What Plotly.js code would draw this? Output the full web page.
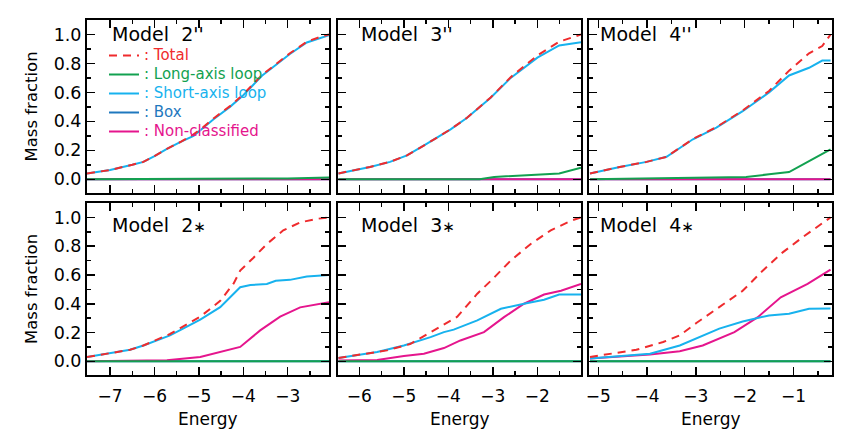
<!DOCTYPE html>
<html>
<head>
<meta charset="utf-8">
<script src="https://cdn.plot.ly/plotly-3.0.1.min.js"></script>
<style>html,body{margin:0;padding:0;background:#fff;}#chart{width:866px;height:432px;}</style>
</head>
<body>
<div id="chart"></div>
<script>
// ---------------- data ----------------
const seriesNames = ['Total', 'Long-axis loop', 'Short-axis loop', 'Box', 'Non-classified'];
const star = '<span style="font-size:15px">\u2217</span>';
const modelLabels = ["Model\u00a0\u00a02''", "Model\u00a0\u00a03''", "Model\u00a0\u00a04''",
                     "Model\u00a0\u00a02" + star, "Model\u00a0\u00a03" + star, "Model\u00a0\u00a04" + star];
const axisTitleX = 'Energy';
const axisTitleY = 'Mass fraction';

// Model 2''
const m2p_totalE = [-7.52,-7.0,-6.5,-6.25,-6.0,-5.72,-5.4,-5.12,-4.9,-4.67,-4.3,-4.0,-3.58,-3.25,-2.95,-2.57,-2.3,-2.07];
const m2p_total  = [0.04,0.064,0.10,0.12,0.16,0.21,0.26,0.31,0.36,0.42,0.505,0.586,0.72,0.80,0.87,0.95,0.98,1.0];
const m2p_shortE = m2p_totalE;
const m2p_short  = [0.04,0.064,0.10,0.12,0.16,0.21,0.26,0.30,0.355,0.415,0.50,0.58,0.715,0.795,0.865,0.945,0.975,0.995];
const m2p_longE  = [-7.52,-4.0,-3.0,-2.07];
const m2p_long   = [0.0,0.002,0.006,0.012];
const m2p_nonE   = [-7.52,-2.07];
const m2p_non    = [0.0,0.0];
const m2p_boxE   = [-7.52,-2.07];
const m2p_box    = [0.0,0.0];

// Model 3''
const m3p_totalE = [-6.47,-5.76,-5.31,-4.93,-4.48,-3.95,-3.58,-3.05,-2.60,-2.0,-1.51,-1.02];
const m3p_total  = [0.04,0.085,0.12,0.165,0.246,0.345,0.425,0.565,0.705,0.855,0.95,1.0];
const m3p_shortE = m3p_totalE;
const m3p_short  = [0.04,0.085,0.12,0.165,0.246,0.345,0.425,0.563,0.70,0.84,0.924,0.947];
const m3p_longE  = [-6.47,-3.3,-2.97,-1.51,-1.02];
const m3p_long   = [0.0,0.0,0.016,0.04,0.08];
const m3p_nonE   = [-6.47,-1.02];
const m3p_non    = [0.0,0.0];
const m3p_boxE   = [-6.47,-1.02];
const m3p_box    = [0.0,0.0];

// Model 4''
const m4p_totalE = [-5.17,-4.56,-4.01,-3.6,-3.06,-2.58,-2.04,-1.50,-1.09,-0.68,-0.41,-0.24];
const m4p_total  = [0.04,0.085,0.12,0.155,0.278,0.36,0.475,0.61,0.75,0.87,0.92,1.0];
const m4p_shortE = m4p_totalE;
const m4p_short  = [0.04,0.085,0.12,0.155,0.276,0.356,0.47,0.60,0.717,0.77,0.82,0.82];
const m4p_longE  = [-5.17,-4.0,-1.97,-1.5,-1.09,-0.68,-0.24];
const m4p_long   = [0.0,0.004,0.016,0.034,0.05,0.126,0.207];
const m4p_nonE   = [-5.17,-0.24];
const m4p_non    = [0.0,0.0];
const m4p_boxE   = [-5.17,-0.24];
const m4p_box    = [0.0,0.0];

// Model 2*
const m2s_totalE = [-7.52,-6.55,-6.25,-5.65,-4.97,-4.52,-4.22,-4.07,-3.77,-3.47,-3.10,-2.72,-2.34,-2.07];
const m2s_total  = [0.03,0.08,0.11,0.19,0.31,0.42,0.54,0.63,0.72,0.815,0.91,0.965,0.99,1.0];
const m2s_shortE = [-7.52,-6.55,-6.25,-5.65,-5.4,-4.97,-4.52,-4.07,-3.84,-3.47,-3.27,-2.95,-2.57,-2.07];
const m2s_short  = [0.03,0.08,0.11,0.18,0.22,0.29,0.376,0.515,0.53,0.538,0.56,0.566,0.59,0.60];
const m2s_longE  = [-7.52,-2.07];
const m2s_long   = [0.0,0.0];
const m2s_nonE   = [-7.52,-6.0,-5.72,-4.97,-4.52,-4.07,-3.62,-3.17,-2.72,-2.31,-2.07];
const m2s_non    = [0.0,0.002,0.007,0.03,0.065,0.10,0.215,0.31,0.375,0.40,0.41];
const m2s_boxE   = [-7.52,-2.07];
const m2s_box    = [0.0,0.0];

// Model 3*
const m3s_totalE = [-6.47,-5.98,-5.38,-4.86,-4.33,-3.8,-3.35,-3.01,-2.60,-2.15,-1.70,-1.24,-1.02];
const m3s_total  = [0.023,0.046,0.076,0.12,0.215,0.31,0.47,0.57,0.70,0.815,0.91,0.977,1.0];
const m3s_shortE = [-6.47,-5.6,-5.0,-4.4,-4.1,-3.88,-3.35,-2.82,-2.30,-1.85,-1.51,-1.02];
const m3s_short  = [0.023,0.065,0.11,0.168,0.203,0.22,0.284,0.365,0.40,0.428,0.464,0.464];
const m3s_longE  = [-6.47,-1.02];
const m3s_long   = [0.0,0.0];
const m3s_nonE   = [-6.47,-5.6,-5.0,-4.55,-4.1,-3.73,-3.2,-2.75,-2.30,-1.85,-1.47,-1.02];
const m3s_non    = [0.005,0.01,0.037,0.053,0.092,0.145,0.203,0.307,0.40,0.464,0.49,0.538];
const m3s_boxE   = [-6.47,-1.02];
const m3s_box    = [0.0,0.0];

// Model 4*
const m4s_totalE = [-5.17,-4.22,-3.67,-3.33,-2.99,-2.52,-2.04,-1.63,-1.22,-0.82,-0.24];
const m4s_total  = [0.03,0.08,0.134,0.18,0.266,0.376,0.49,0.63,0.757,0.86,1.0];
const m4s_shortE = [-5.17,-3.94,-3.33,-2.99,-2.52,-2.04,-1.50,-1.09,-0.68,-0.24];
const m4s_short  = [0.02,0.053,0.11,0.157,0.227,0.277,0.319,0.33,0.365,0.367];
const m4s_longE  = [-5.17,-0.24];
const m4s_long   = [0.0,0.0];
const m4s_nonE   = [-5.17,-3.94,-3.33,-2.86,-2.21,-1.73,-1.26,-0.71,-0.24];
const m4s_non    = [0.02,0.048,0.07,0.11,0.203,0.307,0.445,0.538,0.637];
const m4s_boxE   = [-5.17,-0.24];
const m4s_box    = [0.0,0.0];

// x-axis ranges per column (Energy)
const xRanges = [[-7.52,-2.07],[-6.48,-1.02],[-5.19,-0.21]];
const yRange = [-0.095, 1.1];
const labelX = [-7, -6, -5];

// ---------------- build the figure ----------------
const colors = {Total:'#ef2b2d', 'Long-axis loop':'#12a150', 'Short-axis loop':'#17b2ee', Box:'#1f78be', 'Non-classified':'#e5158d'};
const panels = [
  {total:[m2p_totalE,m2p_total], long:[m2p_longE,m2p_long], short:[m2p_shortE,m2p_short], box:[m2p_boxE,m2p_box], non:[m2p_nonE,m2p_non]},
  {total:[m3p_totalE,m3p_total], long:[m3p_longE,m3p_long], short:[m3p_shortE,m3p_short], box:[m3p_boxE,m3p_box], non:[m3p_nonE,m3p_non]},
  {total:[m4p_totalE,m4p_total], long:[m4p_longE,m4p_long], short:[m4p_shortE,m4p_short], box:[m4p_boxE,m4p_box], non:[m4p_nonE,m4p_non]},
  {total:[m2s_totalE,m2s_total], long:[m2s_longE,m2s_long], short:[m2s_shortE,m2s_short], box:[m2s_boxE,m2s_box], non:[m2s_nonE,m2s_non]},
  {total:[m3s_totalE,m3s_total], long:[m3s_longE,m3s_long], short:[m3s_shortE,m3s_short], box:[m3s_boxE,m3s_box], non:[m3s_nonE,m3s_non]},
  {total:[m4s_totalE,m4s_total], long:[m4s_longE,m4s_long], short:[m4s_shortE,m4s_short], box:[m4s_boxE,m4s_box], non:[m4s_nonE,m4s_non]}
];
const keyOf = {Total:'total','Long-axis loop':'long','Short-axis loop':'short',Box:'box','Non-classified':'non'};
const drawOrder = ['Box','Non-classified','Short-axis loop','Long-axis loop','Total'];
const rank = {Total:1,'Long-axis loop':2,'Short-axis loop':3,Box:4,'Non-classified':5};

const traces = [];
panels.forEach((p, i) => {
  const n = i + 1;
  drawOrder.forEach(name => {
    const d = p[keyOf[name]];
    traces.push({
      type:'scatter', mode:'lines', x:d[0], y:d[1],
      xaxis: n === 1 ? 'x' : 'x' + n, yaxis: n === 1 ? 'y' : 'y' + n,
      name: '<span style="color:' + colors[name] + ';font-size:15px">: ' + name + '</span>',
      legendrank: rank[name], showlegend: i === 0, hoverinfo:'skip',
      line:{color:colors[name], width:2, dash: name === 'Total' ? '8px,6px' : 'solid'}
    });
  });
});

const W = 866, H = 432;
const colPx = [[87,329],[338,581],[589,832]];
const rowPx = [[20,193],[203,375]];
const font = 'DejaVu Sans, Verdana, sans-serif';

const layout = {
  width:W, height:H, margin:{l:0,r:0,t:0,b:0},
  paper_bgcolor:'#fff', plot_bgcolor:'#fff',
  showlegend:true,
  legend:{x:104/W, y:1-41/H, xanchor:'left', yanchor:'top', bgcolor:'rgba(0,0,0,0)',
          font:{family:font, size:12, color:'#000'}, itemwidth:30, tracegroupgap:0},
  annotations:[], font:{family:font, color:'#000'}
};

for (let i = 0; i < 6; i++) {
  const n = i + 1, col = i % 3, row = Math.floor(i / 3);
  const xk = n === 1 ? 'xaxis' : 'xaxis' + n;
  const yk = n === 1 ? 'yaxis' : 'yaxis' + n;
  const common = {showline:true, linecolor:'#000', linewidth:2, mirror:'ticks',
    ticks:'inside', ticklen:8, tickwidth:1.5, tickcolor:'#000', showgrid:false, zeroline:false,
    tickfont:{family:font, size:17, color:'#000'}, fixedrange:true};
  layout[xk] = Object.assign({}, common, {
    domain:[colPx[col][0]/W, colPx[col][1]/W], range:xRanges[col], dtick:1, tick0:0,
    anchor: n === 1 ? 'y' : 'y' + n, showticklabels: row === 1, ticklabelstandoff: 5,
    minor:{dtick:0.5, ticks:'inside', ticklen:4, tickwidth:1.5, tickcolor:'#000', showgrid:false}
  });
  layout[yk] = Object.assign({}, common, {
    domain:[1-rowPx[row][1]/H, 1-rowPx[row][0]/H], range:yRange, dtick:0.2, tick0:0, tickformat:'.1f',
    anchor: n === 1 ? 'x' : 'x' + n, showticklabels: col === 0,
    tickfont:{family:font, size:17.5, color:'#000'},
    minor:{dtick:0.1, ticks:'inside', ticklen:4, tickwidth:1.5, tickcolor:'#000', showgrid:false}
  });
  layout.annotations.push({
    text: modelLabels[i], xref: n === 1 ? 'x' : 'x' + n, yref: n === 1 ? 'y' : 'y' + n,
    x: labelX[col], y: row === 0 ? 1.0 : 0.95, xanchor:'left', yanchor:'middle', showarrow:false,
    font:{family:font, size:19, color:'#000'}
  });
  if (row === 1) {
    layout.annotations.push({text:axisTitleX, xref:'paper', yref:'paper',
      x:(colPx[col][0]+colPx[col][1])/2/W, y:1-419/H, xanchor:'center', yanchor:'middle',
      showarrow:false, font:{family:font, size:17, color:'#000'}});
  }
  if (col === 0) {
    layout.annotations.push({text:axisTitleY, xref:'paper', yref:'paper', textangle:-90,
      x:31/W, y:1-(rowPx[row][0]+rowPx[row][1])/2/H, xanchor:'center', yanchor:'middle',
      showarrow:false, font:{family:font, size:16.5, color:'#000'}});
  }
}

Plotly.newPlot('chart', traces, layout, {displayModeBar:false, staticPlot:true});
</script>
</body>
</html>
